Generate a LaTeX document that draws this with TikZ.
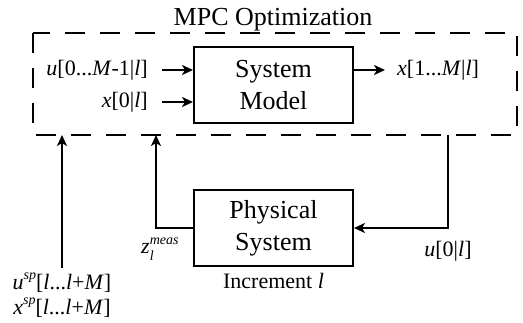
\documentclass[tikz,border=0pt]{standalone}
\usepackage{fontspec}
\setmainfont{Liberation Serif}
\usetikzlibrary{arrows.meta,positioning}

% small italic used for super- and subscripts
\newcommand{\idx}[1]{{\fontsize{14}{14}\selectfont\itshape #1}}
\newcommand{\spx}[1]{\raisebox{0.42em}{\idx{#1}}}

\tikzset{
    block/.style={draw, line width=2pt, minimum width=159pt, minimum height=76pt,
        align=center, inner sep=0pt, font=\fontsize{26}{32}\selectfont},
    lbl/.style={inner sep=0pt, align=center, font=\fontsize{22}{25}\selectfont},
    sig/.style={line width=2pt, -{Stealth[length=11pt,width=10pt,inset=3pt]}}
}

\begin{document}
\begin{tikzpicture}[x=1pt,y=-1pt]
    \useasboundingbox (0,0) rectangle (523,322);

    % optimization frame
    \draw[line width=2pt, dash pattern=on 20pt off 15pt] (33,33) rectangle (517,135);
    \node[inner sep=0pt, anchor=base, font=\fontsize{26}{30}\selectfont] (title) at (273,25) {MPC Optimization};

    % blocks
    \node[block] (model) at (273.5,85) {System\\Model};
    \node[block] (plant) at (273.5,228) {Physical\\System};
    \node[lbl, below=6pt of plant] (incr) {Increment \textit{l}};

    % model inputs and output
    \node[lbl, anchor=east] (uin) at (148,70) {\textit{u}[0...\textit{M}-1|\textit{l}]};
    \node[lbl, anchor=east] (xin) at (148,102) {\textit{x}[0|\textit{l}]};
    \node[lbl, anchor=west] (xout) at (397,70) {\textit{x}[1...\textit{M}|\textit{l}]};
    \draw[sig] ([xshift=14pt]uin.east) -- (uin -| model.west);
    \draw[sig] ([xshift=14pt]xin.east) -- (xin -| model.west);
    \draw[sig] (model.east |- xout) -- ([xshift=-12pt]xout.west);

    % setpoints
    \node[lbl, anchor=north] (sp) at (62,273)
        {\textit{u}\spx{sp}[\textit{l}...\textit{l}+\textit{M}]\\\textit{x}\spx{sp}[\textit{l}...\textit{l}+\textit{M}]};
    \coordinate (spin) at (62,135);
    \draw[sig] ([yshift=5pt]sp.north) -- (spin);

    % measurement feedback
    \coordinate (zin) at (156,135);
    \draw[sig] (plant.west) -| (zin);
    \node[lbl, anchor=west] (zmeas) at (141,249)
        {\textit{z}\makebox[0pt][l]{\spx{meas}}\raisebox{-0.3em}{\idx{l}}};

    % applied control move
    \coordinate (uout) at (448,135);
    \draw[sig] (uout) |- (plant.east);
    \node[lbl] (uapp) at (448,251) {\textit{u}[0|\textit{l}]};
\end{tikzpicture}
\end{document}
